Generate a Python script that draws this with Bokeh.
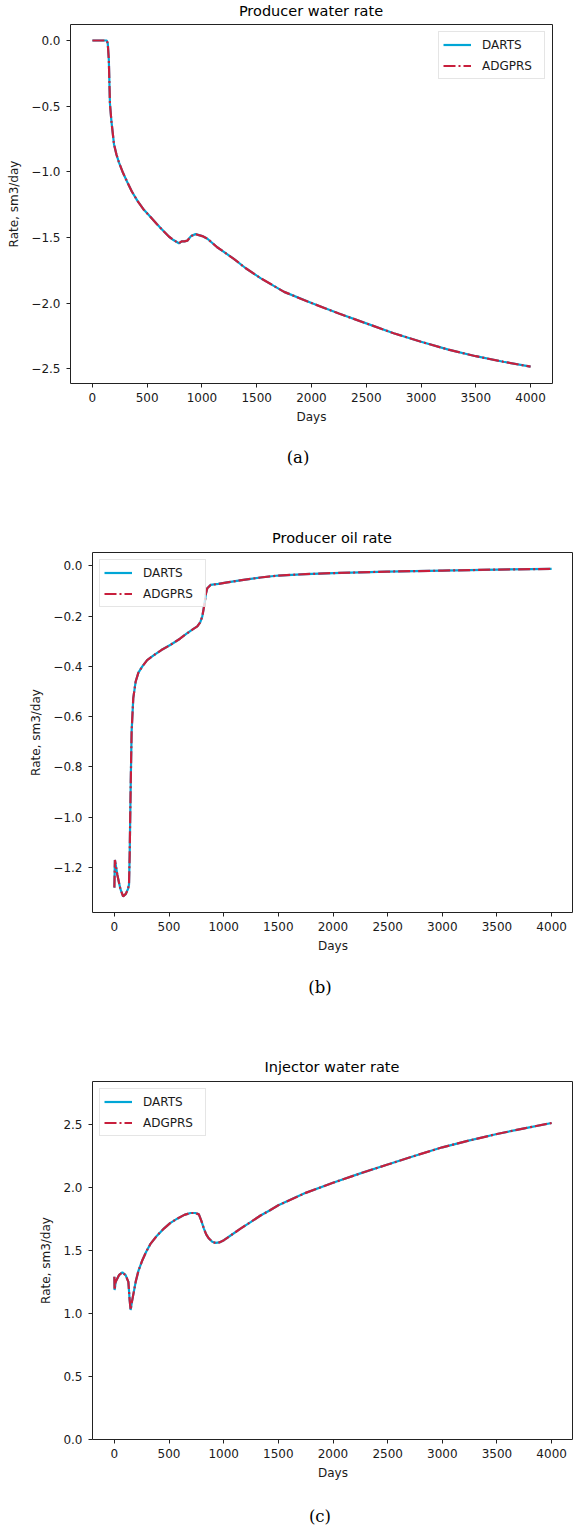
from bokeh.plotting import figure
from bokeh.layouts import column
from bokeh.models import FixedTicker, CustomJSTickFormatter, Range1d, Div
from bokeh.embed import file_html
from bokeh.resources import INLINE

# ---------------- data ----------------
days_prod_water = [0, 50, 100, 130, 140, 150, 160, 173, 197, 220, 243, 280, 319, 360, 410, 470,
                   531, 590, 653, 700, 740, 790, 815, 841, 866, 900, 942, 1003, 1050, 1139,
                   1200, 1291, 1400, 1534, 1750, 2000, 2250, 2500, 2750, 3000, 3250, 3500,
                   3750, 4000]
prod_water_darts = [0, 0, 0, 0, -0.02, -0.15, -0.48, -0.61, -0.79, -0.87, -0.93, -1.01, -1.08,
                    -1.15, -1.22, -1.29, -1.345, -1.40, -1.455, -1.495, -1.52, -1.545, -1.53,
                    -1.53, -1.525, -1.49, -1.475, -1.49, -1.51, -1.575, -1.61, -1.664, -1.735,
                    -1.81, -1.915, -2.0, -2.08, -2.155, -2.23, -2.295, -2.355, -2.405, -2.447,
                    -2.485]
prod_water_adgprs = [0, 0, 0, 0, -0.02, -0.15, -0.48, -0.61, -0.79, -0.87, -0.93, -1.01, -1.08,
                     -1.15, -1.22, -1.29, -1.345, -1.40, -1.455, -1.495, -1.52, -1.545, -1.53,
                     -1.53, -1.525, -1.49, -1.475, -1.49, -1.51, -1.575, -1.61, -1.664, -1.735,
                     -1.81, -1.915, -2.0, -2.08, -2.155, -2.23, -2.295, -2.355, -2.405, -2.447,
                     -2.485]

days_prod_oil = [0, 5, 27, 55, 80, 105, 125, 134, 140, 145, 150, 158, 173, 195, 220, 256, 300,
                 362, 430, 515, 600, 667, 720, 759, 785, 804, 815, 825, 838, 850, 880, 950, 1033,
                 1150, 1337, 1500, 1750, 2000, 2500, 3000, 3500, 4000]
prod_oil_darts = [-1.28, -1.17, -1.229, -1.285, -1.315, -1.305, -1.285, -1.268, -1.15, -1.0,
                  -0.857, -0.658, -0.526, -0.46, -0.425, -0.40, -0.375, -0.355, -0.335, -0.314,
                  -0.29, -0.268, -0.252, -0.241, -0.225, -0.202, -0.175, -0.149, -0.11, -0.089,
                  -0.076, -0.072, -0.066, -0.058, -0.0465, -0.0386, -0.033, -0.029, -0.023,
                  -0.019, -0.015, -0.012]
prod_oil_adgprs = [-1.28, -1.17, -1.229, -1.285, -1.315, -1.305, -1.285, -1.268, -1.15, -1.0,
                   -0.857, -0.658, -0.526, -0.46, -0.425, -0.40, -0.375, -0.355, -0.335, -0.314,
                   -0.29, -0.268, -0.252, -0.241, -0.225, -0.202, -0.175, -0.149, -0.11, -0.089,
                   -0.076, -0.072, -0.066, -0.058, -0.0465, -0.0386, -0.033, -0.029, -0.023,
                   -0.019, -0.015, -0.012]

days_inj_water = [0, 2, 12, 42, 73, 103, 128, 140, 149, 158, 195, 220, 256, 290, 332, 390, 453,
                  510, 575, 640, 697, 740, 773, 795, 819, 840, 865, 895, 926, 960, 1002, 1070,
                  1154, 1250, 1337, 1420, 1500, 1750, 2000, 2250, 2500, 2750, 3000, 3250, 3500,
                  3750, 4000]
inj_water_darts = [1.293, 1.188, 1.253, 1.306, 1.328, 1.306, 1.253, 1.108, 1.029, 1.082, 1.253,
                   1.34, 1.425, 1.49, 1.557, 1.62, 1.676, 1.72, 1.755, 1.785, 1.80, 1.80, 1.789,
                   1.74, 1.676, 1.63, 1.597, 1.572, 1.562, 1.566, 1.584, 1.625, 1.676, 1.73,
                   1.78, 1.82, 1.861, 1.96, 2.04, 2.115, 2.185, 2.255, 2.322, 2.377, 2.428,
                   2.473, 2.515]
inj_water_adgprs = [1.293, 1.188, 1.253, 1.306, 1.328, 1.306, 1.253, 1.108, 1.029, 1.082, 1.253,
                    1.34, 1.425, 1.49, 1.557, 1.62, 1.676, 1.72, 1.755, 1.785, 1.80, 1.80, 1.789,
                    1.74, 1.676, 1.63, 1.597, 1.572, 1.562, 1.566, 1.584, 1.625, 1.676, 1.73,
                    1.78, 1.82, 1.861, 1.96, 2.04, 2.115, 2.185, 2.255, 2.322, 2.377, 2.428,
                    2.473, 2.515]

x_ticks = [0, 500, 1000, 1500, 2000, 2500, 3000, 3500, 4000]
y_ticks_a = [0.0, -0.5, -1.0, -1.5, -2.0, -2.5]
y_ticks_b = [0.0, -0.2, -0.4, -0.6, -0.8, -1.0, -1.2]
y_ticks_c = [0.0, 0.5, 1.0, 1.5, 2.0, 2.5]

series_names = ["DARTS", "ADGPRS"]
titles = ["Producer water rate", "Producer oil rate", "Injector water rate"]
captions = ["(a)", "(b)", "(c)"]

# ---------------- styling ----------------
W = 573
DARTS_COLOR = "#00A6D6"
ADGPRS_COLOR = "#C81F3C"
FONT = "DejaVu Sans"
SERIF = "DejaVu Serif"
TXT = "#1a1a1a"


def make_panel(x, yd, ya, yticks, yr, legend_loc, h, bl, br, bt, bb):
    p = figure(width=W, height=h, output_backend="svg", toolbar_location=None,
               x_range=Range1d(-200, 4200), y_range=Range1d(*yr),
               min_border_left=bl, min_border_right=br, min_border_top=bt,
               min_border_bottom=bb, frame_align=False)
    p.grid.visible = False
    p.outline_line_color = "#222222"
    p.outline_line_width = 1
    p.background_fill_color = "white"
    p.border_fill_color = "white"

    p.line(x, yd, color=DARTS_COLOR, line_width=2.2, legend_label=series_names[0])
    p.line(x, ya, color=ADGPRS_COLOR, line_width=2.2, line_dash="12 3 2 3",
           legend_label=series_names[1])

    for ax in (p.xaxis[0], p.yaxis[0]):
        ax.axis_line_color = None
        ax.major_tick_line_color = "#222222"
        ax.major_tick_out = 4
        ax.major_tick_in = 0
        ax.minor_tick_line_color = None
        ax.major_label_text_font = FONT
        ax.major_label_text_font_size = "12px"
        ax.major_label_text_color = TXT
        ax.axis_label_text_font = FONT
        ax.axis_label_text_font_size = "12px"
        ax.axis_label_text_font_style = "normal"
        ax.axis_label_text_color = TXT

    p.xaxis.ticker = FixedTicker(ticks=x_ticks)
    p.xaxis.axis_label = "Days"
    p.xaxis.major_label_standoff = 5
    p.xaxis.axis_label_standoff = 5

    p.yaxis.ticker = FixedTicker(ticks=yticks)
    p.yaxis.formatter = CustomJSTickFormatter(
        code="return tick.toFixed(1).replace('-', '\u2212');")
    p.yaxis.axis_label = "Rate, sm3/day"
    p.yaxis.major_label_standoff = 6
    p.yaxis.axis_label_standoff = 7

    lg = p.legend[0]
    lg.location = legend_loc
    lg.margin = 7
    lg.padding = 4
    lg.spacing = 4
    lg.glyph_width = 28
    lg.glyph_height = 17
    lg.label_height = 17
    lg.label_width = 58
    lg.label_standoff = 11
    lg.label_text_font = FONT
    lg.label_text_font_size = "12px"
    lg.label_text_color = TXT
    lg.border_line_color = "#cccccc"
    lg.border_line_width = 1
    lg.background_fill_alpha = 0.8
    return p


def text_div(h, items):
    spans = []
    for txt, cx, cy, font, size in items:
        spans.append(
            f'<span style="position:absolute;left:{cx}px;top:{cy}px;'
            f'transform:translate(-50%,-50%);white-space:nowrap;font-family:\'{font}\';'
            f'font-size:{size};line-height:1.15;color:#000;">{txt}</span>')
    html = (f'<div style="position:relative;width:{W}px;height:{h}px;margin:0;padding:0;">'
            + "".join(spans) + "</div>")
    return Div(text=html, width=W, height=h, margin=0)


d_top = text_div(22, [(titles[0], 311, 10.5, FONT, "14.5px")])
pa = make_panel(days_prod_water, prod_water_darts, prod_water_adgprs, y_ticks_a,
                (-2.613, 0.122), "top_right", h=411, bl=70, br=21, bt=2, bb=50)
d_mid1 = text_div(116, [(captions[0], 298, 25.3, SERIF, "16.5px"),
                        (titles[1], 332, 105.3, FONT, "14.5px")])
pb = make_panel(days_prod_oil, prod_oil_darts, prod_oil_adgprs, y_ticks_b,
                (-1.379, 0.053), "top_left", h=413, bl=92, br=0, bt=3, bb=50)
d_mid2 = text_div(115, [(captions[1], 320, 26.3, SERIF, "16.5px"),
                        (titles[2], 332, 105.3, FONT, "14.5px")])
pc = make_panel(days_inj_water, inj_water_darts, inj_water_adgprs, y_ticks_c,
                (0.0, 2.845), "top_left", h=412, bl=92, br=0, bt=4, bb=50)
d_end = text_div(40, [(captions[2], 320, 27.7, SERIF, "16.5px")])

layout = column(d_top, pa, d_mid1, pb, d_mid2, pc, d_end, spacing=0)
open("out.html", "w").write(file_html(layout, INLINE))
